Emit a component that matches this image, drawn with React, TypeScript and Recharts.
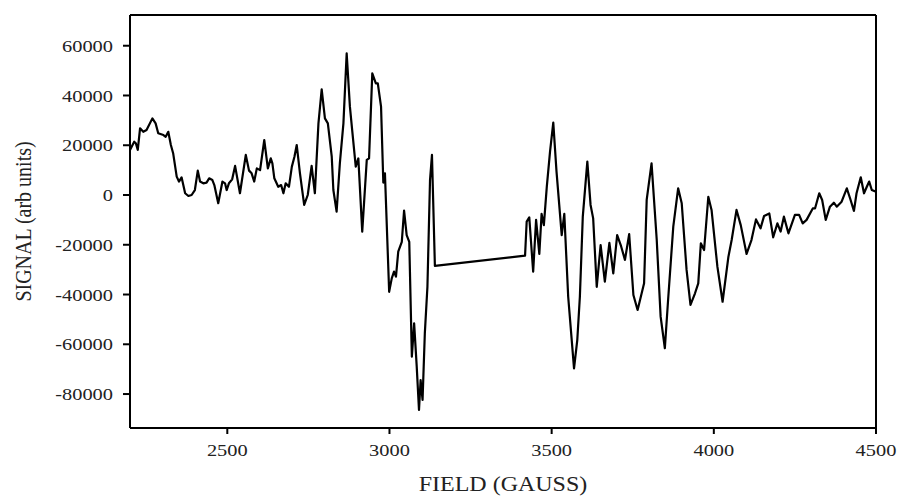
import { Label, Line, LineChart, ReferenceLine, XAxis, YAxis } from "recharts";

const fields = [
  2200, 2213, 2218, 2224, 2231, 2241, 2251, 2269, 2279, 2287, 2303, 2310, 2318, 2326, 2333, 2344, 2351, 2359, 2370, 2380,
  2390, 2400, 2409, 2416, 2426, 2436, 2444, 2454, 2460, 2472, 2485, 2493, 2498, 2505, 2515, 2524, 2539, 2557, 2567, 2575,
  2583, 2591, 2601, 2614, 2625, 2634, 2639, 2645, 2657, 2666, 2673, 2680, 2690, 2699, 2707, 2714, 2724, 2737, 2748, 2760,
  2770, 2781, 2791, 2801, 2810, 2822, 2827, 2837, 2847, 2858, 2868, 2878, 2885, 2896, 2904, 2916, 2930, 2937, 2947, 2958,
  2964, 2974, 2981, 2986, 2999, 3007, 3014, 3020, 3027, 3038, 3045, 3053, 3061, 3069, 3076, 3084, 3091, 3096, 3102, 3109,
  3117, 3125, 3131, 3140, 3418, 3423, 3431, 3443, 3452, 3462, 3469, 3476, 3485, 3495, 3505, 3515, 3531, 3539, 3551, 3569,
  3579, 3587, 3596, 3610, 3620, 3628, 3639, 3651, 3664, 3678, 3690, 3702, 3713, 3726, 3739, 3752, 3765, 3785, 3793, 3808,
  3824, 3836, 3849, 3859, 3875, 3890, 3901, 3916, 3928, 3942, 3952, 3960, 3970, 3983, 3993, 4011, 4027, 4045, 4055, 4070,
  4083, 4101, 4116, 4130, 4144, 4155, 4171, 4183, 4196, 4206, 4216, 4230, 4250, 4263, 4274, 4286, 4305, 4312, 4325, 4334,
  4345, 4358, 4370, 4379, 4394, 4410, 4420, 4432, 4440, 4453, 4463, 4471, 4479, 4487, 4500,
];

const signals = [
  18100, 21400, 20800, 18100, 26800, 25400, 26100, 30800, 28800, 24800, 24100, 23400, 25400, 20100, 16800, 7400, 5400, 7100, 700, -400,
  0, 2000, 9800, 5400, 4700, 5000, 6700, 6000, 4000, -3300, 5400, 4700, 2000, 4700, 6300, 11700, 700, 16100, 9800, 8700,
  5400, 10700, 10000, 22100, 10700, 14700, 12700, 6700, 3300, 4000, 700, 4700, 3300, 11400, 15400, 20100, 8700, -4000, 0, 11700,
  700, 28800, 42500, 30800, 28800, 15400, 2000, -6700, 12700, 28800, 56900, 35500, 26100, 11400, 14700, -14700, 14100, 14700, 48900, 44900,
  44900, 35500, 5000, 8700, -38900, -33500, -30800, -32800, -22800, -18800, -6300, -16100, -18800, -65000, -51600, -69000, -86400, -74400, -82400, -55600,
  -36900, 6000, 16100, -28500, -24400, -10700, -9000, -30800, -10000, -23700, -7600, -12100, 3300, 17400, 29100, 9400, -16100, -7600, -40900, -69700,
  -58300, -40900, -8700, 13400, -4000, -9400, -36900, -20100, -34800, -19200, -31500, -16100, -20100, -26100, -15700, -40200, -46200, -35500, -2000, 12700,
  -18100, -48900, -61600, -42200, -12700, 2700, -3300, -30100, -44200, -39500, -35500, -19400, -22100, -700, -6000, -28800, -42900, -24800, -18100, -6000,
  -12100, -23700, -18100, -9800, -13400, -8400, -7400, -17000, -11400, -14700, -8700, -15400, -8000, -8000, -11400, -10000, -5400, -5400, 700, -2000,
  -10000, -4700, -3100, -4700, -2700, 2700, -1300, -6400, 700, 7100, 700, 3100, 5400, 2000, 1300,
];

const xTicks = [2500, 3000, 3500, 4000, 4500];
const yTicks = [-80000, -60000, -40000, -20000, 0, 20000, 40000, 60000];
const X_MIN = 2200;
const X_MAX = 4500;
const Y_MIN = -93650;
const Y_MAX = 72350;

const data = fields.map((field, i) => ({ field, signal: signals[i] }));

const FONT = "'Liberation Serif', 'Times New Roman', serif";
const INK = "#222";

function XTick({ x, y, payload }: any) {
  return <text transform={`translate(${x},${y}) scale(1.2,1)`} textAnchor="middle" dy="0.71em" fontFamily={FONT} fontSize={17} fill={INK}>{payload.value}</text>;
}

function YTick({ x, y, payload }: any) {
  return <text transform={`translate(${x},${y}) scale(1.2,1)`} textAnchor="end" dy="0.355em" fontFamily={FONT} fontSize={17} fill={INK}>{payload.value}</text>;
}

export default function App() {
  return <div style={{ position: "absolute", left: 0, top: 0, background: "#fff" }}>
    <LineChart width={897} height={496} data={data} margin={{ top: 15, right: 21, bottom: 8, left: 10 }}>
      <XAxis dataKey="field" type="number" domain={[X_MIN, X_MAX]} ticks={xTicks} allowDataOverflow height={60}
        stroke="#000" strokeWidth={2} tickSize={6} tickMargin={10} tick={<XTick />} tickLine={{ stroke: "#000", strokeWidth: 2 }}>
        <Label content={({ viewBox }: any) => <text transform={`translate(${viewBox.x + viewBox.width / 2},${viewBox.y + 63}) scale(1.2,1)`}
          textAnchor="middle" fontFamily={FONT} fontSize={20} fill={INK}>FIELD (GAUSS)</text>} />
      </XAxis>
      <YAxis type="number" domain={[Y_MIN, Y_MAX]} ticks={yTicks} allowDataOverflow width={120}
        stroke="#000" strokeWidth={2} tickSize={7} tickMargin={10} tick={<YTick />} tickLine={{ stroke: "#000", strokeWidth: 2 }}>
        <Label content={({ viewBox }: any) => <text transform={`translate(${viewBox.x + 13},${viewBox.y + viewBox.height / 2}) scale(1.2,1) rotate(-90)`}
          textAnchor="middle" dominantBaseline="central" fontFamily={FONT} fontSize={20} fill={INK}>SIGNAL (arb units)</text>} />
      </YAxis>
      <ReferenceLine y={Y_MAX} stroke="#000" strokeWidth={2} />
      <ReferenceLine x={X_MAX} stroke="#000" strokeWidth={2} />
      <Line type="linear" dataKey="signal" stroke="#000" strokeWidth={2.2} strokeLinejoin="round" dot={false} isAnimationActive={false} />
    </LineChart>
  </div>;
}
